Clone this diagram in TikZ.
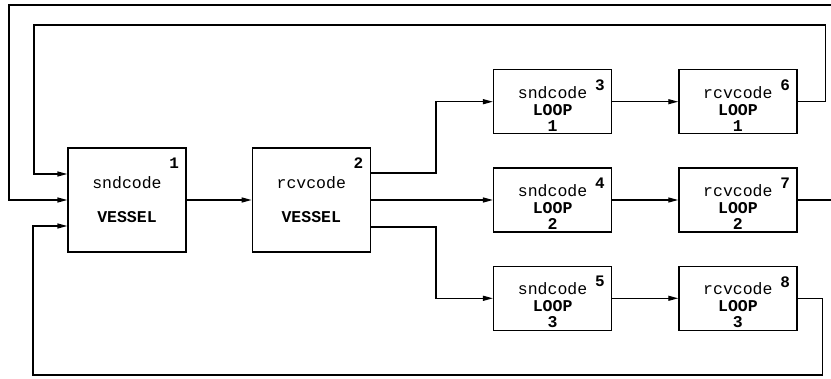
\documentclass[tikz,border=0pt]{standalone}
\usepackage{fontspec}
\setmonofont{Liberation Mono}
\usepackage{tikz}
\usetikzlibrary{calc,positioning,arrows.meta}

\begin{document}
\begin{tikzpicture}[x=1pt,y=1pt,line width=1.3pt,>={Triangle[length=10pt,width=5pt]},
		every node/.style={font=\ttfamily\fontsize{16.5}{17}\selectfont},
		vbox/.style={draw,rectangle,align=center,minimum width=118pt,minimum height=104pt,inner sep=0pt},
		lbox/.style={draw,rectangle,align=center,minimum width=118pt,minimum height=64pt,inner sep=0pt},
		num/.style={anchor=north east,inner sep=0pt,xshift=-7pt,yshift=-10pt,font=\ttfamily\bfseries\fontsize{16}{16}\selectfont}]
		\useasboundingbox (0,0) rectangle (831,378);
		% vessel
		\node(1) [vbox,label={[num]north east:1}] at (127,178) {sndcode\\[17pt]\textbf{VESSEL}};
		\node(2) [vbox,right=65pt of 1,label={[num]north east:2}] {rcvcode\\[17pt]\textbf{VESSEL}};
		% loops
		\node(4) [lbox,right=122pt of 2,label={[num]north east:4}] {\rule{0pt}{26pt}sndcode\\\textbf{LOOP}\\[-1pt]\textbf{2}};
		\node(3) [lbox,above=33pt of 4,label={[num]north east:3}] {\rule{0pt}{26pt}sndcode\\\textbf{LOOP}\\[-1pt]\textbf{1}};
		\node(5) [lbox,below=33pt of 4,label={[num]north east:5}] {\rule{0pt}{26pt}sndcode\\\textbf{LOOP}\\[-1pt]\textbf{3}};
		\node(6) [lbox,right=66pt of 3,label={[num]north east:6}] {\rule{0pt}{26pt}rcvcode\\\textbf{LOOP}\\[-1pt]\textbf{1}};
		\node(7) [lbox,right=66pt of 4,label={[num]north east:7}] {\rule{0pt}{26pt}rcvcode\\\textbf{LOOP}\\[-1pt]\textbf{2}};
		\node(8) [lbox,right=66pt of 5,label={[num]north east:8}] {\rule{0pt}{26pt}rcvcode\\\textbf{LOOP}\\[-1pt]\textbf{3}};
		\coordinate(top1) at (34,353);
		\coordinate(top2) at (9,373);
		\coordinate(bot) at (33,3);
		\path[->]
			(1) edge (2)
			(2) edge (4)
			(3) edge (6)
			(4) edge (7)
			(5) edge (8);
		\draw[->] ([yshift=27pt]2.east) -- ++(65,0) |- (3.west);
		\draw[->] ([yshift=-27pt]2.east) -- ++(65,0) |- (5.west);
		% feedback
		\draw[->] (6.east) -- ++(28,0) |- (top1) |- ([yshift=26pt]1.west);
		\draw[->] (7.east) -- ++(45,0) |- (top2) |- (1.west);
		\draw[->] (8.east) -- ++(25,0) |- (bot) |- ([yshift=-26pt]1.west);
	\end{tikzpicture}
\end{document}
